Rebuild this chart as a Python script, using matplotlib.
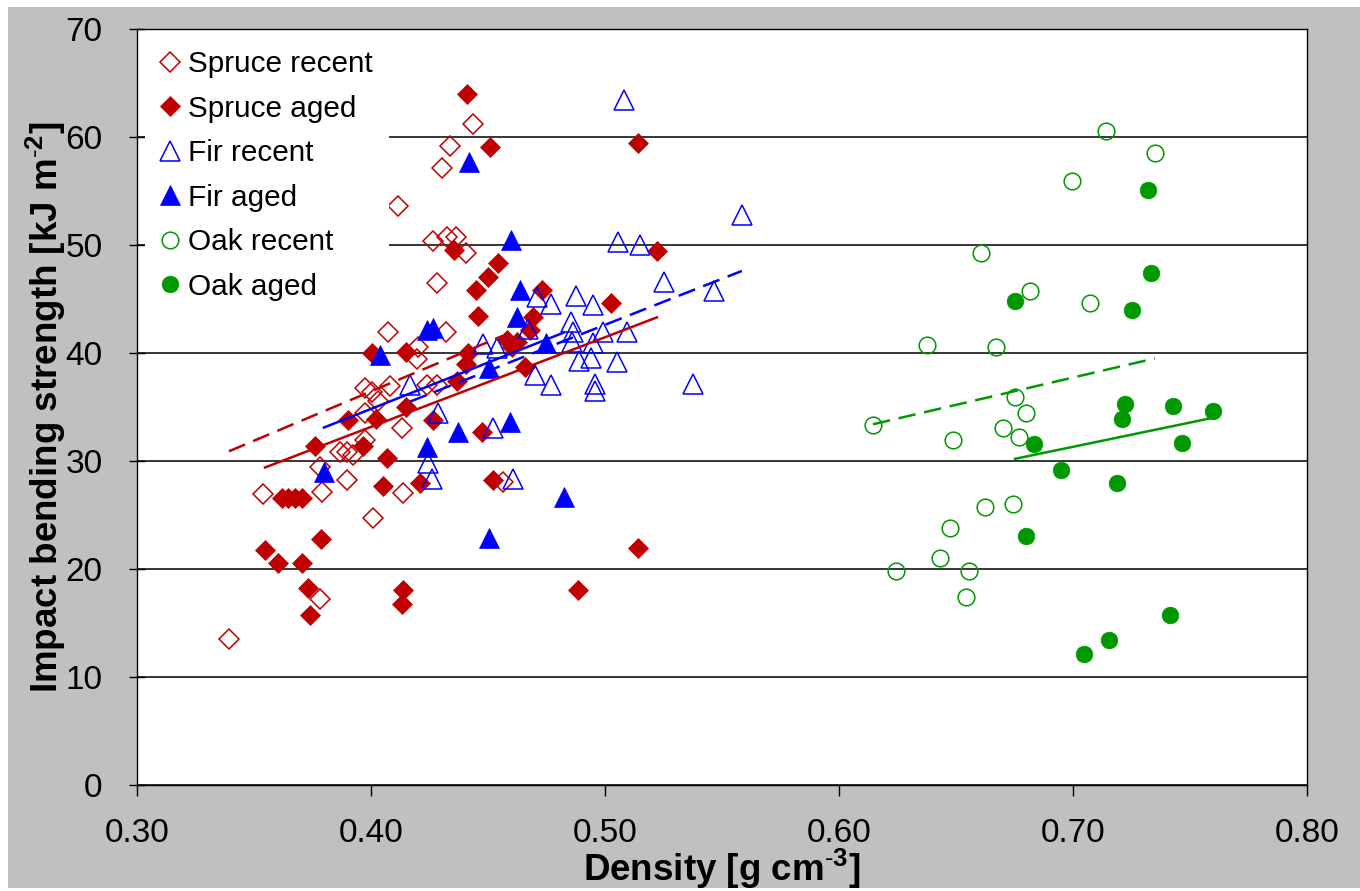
import matplotlib
matplotlib.use("Agg")
import matplotlib.pyplot as plt
from matplotlib.patches import Rectangle
from matplotlib.ticker import FormatStrFormatter, MultipleLocator

plt.rcParams['font.family'] = ['Liberation Sans', 'DejaVu Sans']
plt.rcParams['mathtext.fontset'] = 'custom'
plt.rcParams['mathtext.rm'] = 'Liberation Sans'
plt.rcParams['mathtext.bf'] = 'Liberation Sans:bold'

# ---- data (density g/cm3, impact bending strength kJ/m2) ----
spruce_recent_x = [0.4436, 0.4338, 0.4303, 0.4115, 0.4265, 0.4325, 0.4363, 0.4406, 0.4282,
                   0.4073, 0.4321, 0.4201, 0.4197, 0.3974, 0.4004, 0.4081, 0.4030, 0.4239,
                   0.4282, 0.4132, 0.3974, 0.3974, 0.3868, 0.3897, 0.3923, 0.3782, 0.3897,
                   0.3791, 0.3538, 0.4137, 0.4009, 0.3782, 0.3393, 0.4564]
spruce_recent_y = [61.2, 59.2, 57.1, 53.6, 50.4, 50.7, 50.7, 49.3, 46.5,
                   41.9, 41.9, 40.6, 39.4, 36.8, 36.4, 36.9, 35.6, 37.0,
                   37.0, 33.1, 34.4, 31.9, 30.8, 30.8, 30.6, 29.4, 28.2,
                   27.1, 26.9, 27.0, 24.7, 17.2, 13.5, 28.1]

spruce_aged_x = [0.4410, 0.4509, 0.5141, 0.4355, 0.5222, 0.4543, 0.4500, 0.4449, 0.4731,
                 0.5026, 0.4457, 0.4692, 0.4679, 0.4581, 0.4624, 0.4603, 0.4415, 0.4004,
                 0.4150, 0.4406, 0.4658, 0.4368, 0.3902, 0.4021, 0.4150, 0.4265, 0.4474,
                 0.3761, 0.3966, 0.4068, 0.4051, 0.4209, 0.4521, 0.3620, 0.3645, 0.3675,
                 0.3705, 0.3547, 0.3603, 0.3705, 0.3786, 0.3731, 0.3739, 0.4137, 0.4132,
                 0.4885, 0.5141]
spruce_aged_y = [64.0, 59.1, 59.4, 49.5, 49.4, 48.3, 47.0, 45.8, 45.8,
                 44.6, 43.4, 43.3, 42.1, 41.2, 41.0, 40.6, 40.0, 40.0,
                 40.1, 39.0, 38.7, 37.4, 33.8, 33.9, 35.0, 33.8, 32.7,
                 31.4, 31.4, 30.3, 27.7, 28.0, 28.2, 26.6, 26.6, 26.6,
                 26.6, 21.8, 20.6, 20.6, 22.8, 18.2, 15.7, 18.1, 16.8,
                 18.1, 21.9]

fir_recent_x = [0.5081, 0.5585, 0.5056, 0.5150, 0.5252, 0.5466, 0.4876, 0.4709, 0.4769,
                0.4949, 0.4855, 0.4863, 0.4671, 0.4991, 0.5094, 0.4479, 0.4538, 0.4859,
                0.4949, 0.4889, 0.4940, 0.5051, 0.4701, 0.4769, 0.4957, 0.4957, 0.5376,
                0.4167, 0.4286, 0.4521, 0.4244, 0.4261, 0.4607]
fir_recent_y = [63.4, 52.8, 50.3, 50.0, 46.6, 45.7, 45.3, 45.2, 44.5,
                44.4, 42.9, 41.9, 42.2, 41.9, 41.9, 40.8, 40.5, 41.0,
                40.9, 39.3, 39.5, 39.2, 38.0, 37.0, 37.1, 36.5, 37.1,
                37.0, 34.4, 33.1, 29.8, 28.3, 28.3]

fir_aged_x = [0.4419, 0.4598, 0.4637, 0.4624, 0.4748, 0.4504, 0.4239, 0.4265, 0.4038,
              0.3799, 0.4239, 0.4372, 0.4594, 0.4825, 0.4504]
fir_aged_y = [57.7, 50.5, 45.8, 43.3, 40.9, 38.6, 42.1, 42.3, 39.8,
              29.0, 31.3, 32.7, 33.6, 26.7, 22.9]

oak_recent_x = [0.7141, 0.7350, 0.6996, 0.6607, 0.6376, 0.7073, 0.6816, 0.6671, 0.6752,
                0.6799, 0.6701, 0.6769, 0.6145, 0.6487, 0.6624, 0.6744, 0.6474, 0.6432,
                0.6244, 0.6556, 0.6543]
oak_recent_y = [60.6, 58.5, 55.9, 49.3, 40.7, 44.6, 45.7, 40.6, 35.9,
                34.4, 33.1, 32.2, 33.3, 31.9, 25.7, 26.0, 23.8, 21.0,
                19.8, 19.8, 17.4]

oak_aged_x = [0.7321, 0.7333, 0.6752, 0.7252, 0.7222, 0.7209, 0.7427, 0.7598, 0.7466,
              0.6833, 0.6949, 0.7188, 0.6799, 0.7415, 0.7154, 0.7047]
oak_aged_y = [55.1, 47.4, 44.8, 44.0, 35.3, 33.9, 35.1, 34.6, 31.7,
              31.6, 29.2, 28.0, 23.1, 15.7, 13.4, 12.1]

# linear trendline end points
spruce_recent_fit_x = [0.3393, 0.4564]
spruce_recent_fit_y = [30.9, 41.6]
spruce_aged_fit_x = [0.3547, 0.5222]
spruce_aged_fit_y = [29.4, 43.3]
fir_recent_fit_x = [0.4167, 0.5585]
fir_recent_fit_y = [35.5, 47.6]
fir_aged_fit_x = [0.3799, 0.4825]
fir_aged_fit_y = [33.1, 41.9]
oak_recent_fit_x = [0.6145, 0.7350]
oak_recent_fit_y = [33.4, 39.5]
oak_aged_fit_x = [0.6752, 0.7598]
oak_aged_fit_y = [30.2, 34.0]

RED = '#c00000'
BLUE = '#0000ff'
GREEN = '#009900'

fig = plt.figure(figsize=(13.6, 8.91), dpi=100)
fig.add_artist(Rectangle((8 / 1360, 3 / 891), 1, 881 / 891, transform=fig.transFigure,
                         facecolor='#c0c0c0', edgecolor='none', zorder=-10))
ax = fig.add_axes([137 / 1360, 106 / 891, 1170 / 1360, 756 / 891])

# series
ax.plot(spruce_recent_x, spruce_recent_y, ls='none', marker='D', ms=9.7, mfc='none',
        mec=RED, mew=1.1, label='Spruce recent', zorder=3)
ax.plot(spruce_aged_x, spruce_aged_y, ls='none', marker='D', ms=9.7, mfc=RED,
        mec=RED, mew=0.5, label='Spruce aged', zorder=3)
ax.plot(fir_recent_x, fir_recent_y, ls='none', marker='^', ms=14, mfc='none',
        mec=BLUE, mew=1.1, label='Fir recent', zorder=3)
ax.plot(fir_aged_x, fir_aged_y, ls='none', marker='^', ms=14, mfc=BLUE,
        mec=BLUE, mew=0.5, label='Fir aged', zorder=3)
ax.plot(oak_recent_x, oak_recent_y, ls='none', marker='o', ms=12, mfc='none',
        mec=GREEN, mew=1.1, label='Oak recent', zorder=3)
ax.plot(oak_aged_x, oak_aged_y, ls='none', marker='o', ms=12, mfc=GREEN,
        mec=GREEN, mew=0.5, label='Oak aged', zorder=3)

# trendlines (dashed = recent, solid = aged)
dash = (0, (7, 3.5))
ax.plot(spruce_recent_fit_x, spruce_recent_fit_y, color=RED, lw=1.8, ls=dash, zorder=4)
ax.plot(spruce_aged_fit_x, spruce_aged_fit_y, color=RED, lw=1.8, zorder=4)
ax.plot(fir_recent_fit_x, fir_recent_fit_y, color=BLUE, lw=1.8, ls=dash, zorder=4)
ax.plot(fir_aged_fit_x, fir_aged_fit_y, color=BLUE, lw=1.8, zorder=4)
ax.plot(oak_recent_fit_x, oak_recent_fit_y, color=GREEN, lw=1.8, ls=dash, zorder=4)
ax.plot(oak_aged_fit_x, oak_aged_fit_y, color=GREEN, lw=1.8, zorder=4)

ax.set_xlim(0.30, 0.80)
ax.set_ylim(0, 70)
ax.xaxis.set_major_locator(MultipleLocator(0.1))
ax.xaxis.set_major_formatter(FormatStrFormatter('%.2f'))
ax.yaxis.set_major_locator(MultipleLocator(10))
ax.yaxis.grid(True, color='black', lw=1.1)
ax.set_axisbelow(True)
for s in ax.spines.values():
    s.set_color('black')
    s.set_linewidth(1.0)

ax.tick_params(axis='y', direction='inout', length=11.5, width=1, labelsize=24, pad=19)
ax.tick_params(axis='x', direction='out', length=8, width=1, labelsize=24, pad=16)

ax.set_xlabel(r'Density [g cm$^{\mathbf{\text{-}3}}$]', fontsize=26.5, fontweight='bold',
              labelpad=-2)
ax.set_ylabel(r'Impact bending strength [kJ m$^{\mathbf{\text{-}2}}$]', fontsize=26.5,
              fontweight='bold', labelpad=-2)

leg = ax.legend(loc='upper left', bbox_to_anchor=(0.0068, 0.9934), borderaxespad=0,
                fontsize=21.4, frameon=True, fancybox=False, framealpha=1,
                facecolor='white', edgecolor='none', borderpad=0.55,
                labelspacing=0.555, handlelength=0.6, handletextpad=0.3)
leg.set_zorder(5)

fig.savefig('out.png', dpi=100)
